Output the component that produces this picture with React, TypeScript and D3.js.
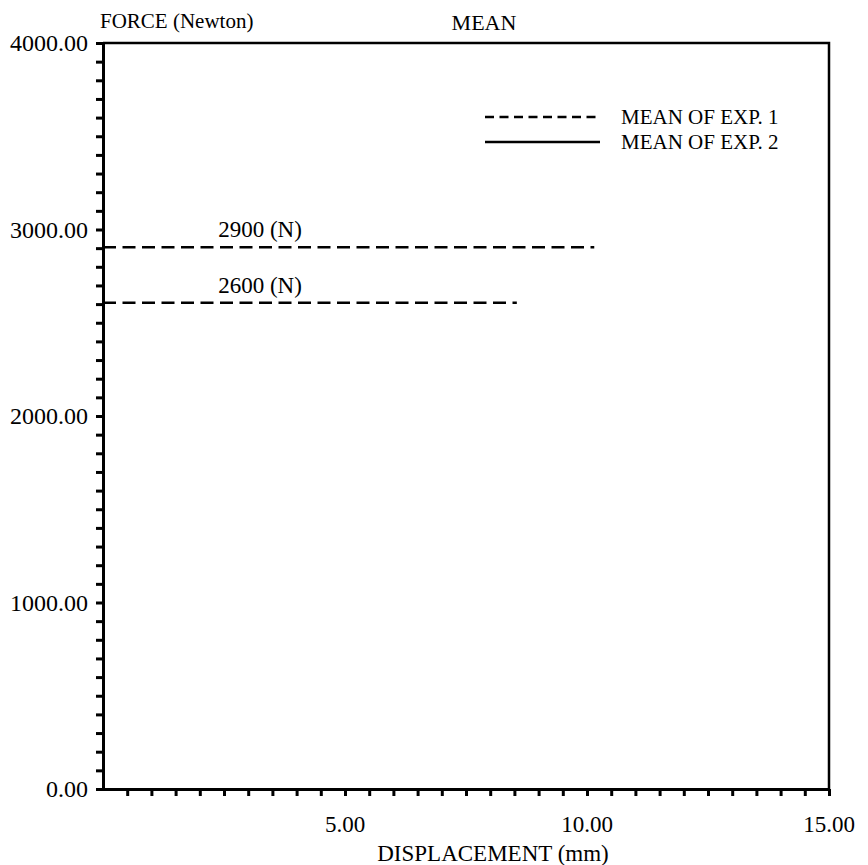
import React, { useEffect, useRef } from 'react';
import * as d3 from 'd3';

// values
const yTickValues = [0, 1000, 2000, 3000, 4000];
const xTickValues = [5, 10, 15];
const meanExp1High = [{ x: 0, y: 2905 }, { x: 10.15, y: 2905 }];
const meanExp1Low = [{ x: 0, y: 2607 }, { x: 8.55, y: 2607 }];
const lineLabels = ['2900 (N)', '2600 (N)'];
const legendNames = ['MEAN OF EXP. 1', 'MEAN OF EXP. 2'];

const FONT = 'Liberation Serif, DejaVu Serif, serif';

export default function App() {
  const ref = useRef<SVGSVGElement | null>(null);

  useEffect(() => {
    const svg = d3.select(ref.current);
    svg.selectAll('*').remove();

    const left = 103;
    const right = 829;
    const top = 43;
    const bottom = 789;

    const x = d3.scaleLinear().domain([0, 15]).range([left, right]);
    const y = d3.scaleLinear().domain([0, 4000]).range([bottom, top]);

    // frame (top and right)
    svg.append('path')
      .attr('d', `M${left},${top}H${right}V${bottom}`)
      .attr('fill', 'none')
      .attr('stroke', '#000')
      .attr('stroke-width', 2.5);

    // left axis: minor ticks every 100
    const yAxis = d3.axisLeft(y)
      .tickValues(d3.range(0, 4001, 100))
      .tickSize(7)
      .tickFormat(() => '');
    const gy = svg.append('g').attr('transform', `translate(${left},0)`).call(yAxis);
    gy.select('.domain').attr('stroke-width', 3);
    gy.selectAll('.tick line').attr('stroke-width', 3);

    svg.append('g')
      .selectAll('text')
      .data(yTickValues)
      .enter()
      .append('text')
      .attr('x', 88)
      .attr('y', d => y(d))
      .attr('dy', '0.35em')
      .attr('text-anchor', 'end')
      .attr('font-family', FONT)
      .attr('font-size', 24)
      .text(d => d3.format('.2f')(d));

    // bottom axis: minor ticks every 0.5
    const xAxis = d3.axisBottom(x)
      .tickValues(d3.range(0.5, 15.01, 0.5))
      .tickSize(7)
      .tickSizeOuter(0)
      .tickFormat(() => '');
    const gx = svg.append('g').attr('transform', `translate(0,${bottom})`).call(xAxis);
    gx.select('.domain').attr('stroke-width', 3);
    gx.selectAll('.tick line').attr('stroke-width', 3);

    svg.append('g')
      .selectAll('text')
      .data(xTickValues)
      .enter()
      .append('text')
      .attr('x', d => x(d))
      .attr('y', 832)
      .attr('text-anchor', 'middle')
      .attr('font-family', FONT)
      .attr('font-size', 23)
      .text(d => d3.format('.2f')(d));

    // titles
    const addText = (tx: number, ty: number, s: string, size: number, anchor = 'start') =>
      svg.append('text')
        .attr('x', tx)
        .attr('y', ty)
        .attr('text-anchor', anchor)
        .attr('font-family', FONT)
        .attr('font-size', size)
        .text(s);

    addText(100, 28, 'FORCE (Newton)', 21);
    addText(484, 30, 'MEAN', 22, 'middle');
    addText(493, 861, 'DISPLACEMENT (mm)', 23, 'middle');

    // mean lines
    const line = d3.line<{ x: number; y: number }>().x(d => x(d.x)).y(d => y(d.y));
    [meanExp1High, meanExp1Low].forEach((data, i) => {
      svg.append('path')
        .datum(data)
        .attr('d', line)
        .attr('fill', 'none')
        .attr('stroke', '#000')
        .attr('stroke-width', 2.5)
        .attr('stroke-dasharray', '13,6.5');
      addText(x(2.38), y(data[0].y) - 10, lineLabels[i], 23);
    });

    // legend
    const legendY = [117, 142];
    legendNames.forEach((name, i) => {
      svg.append('line')
        .attr('x1', 485)
        .attr('x2', 600)
        .attr('y1', legendY[i])
        .attr('y2', legendY[i])
        .attr('stroke', '#000')
        .attr('stroke-width', 2.5)
        .attr('stroke-dasharray', i === 0 ? '9,5.5' : null);
      addText(621, legendY[i] + 7, name, 21);
    });
  }, []);

  return (
    <svg
      ref={ref}
      width={868}
      height={865}
      style={{ position: 'absolute', left: 0, top: 0, background: '#fff' }}
    />
  );
}
